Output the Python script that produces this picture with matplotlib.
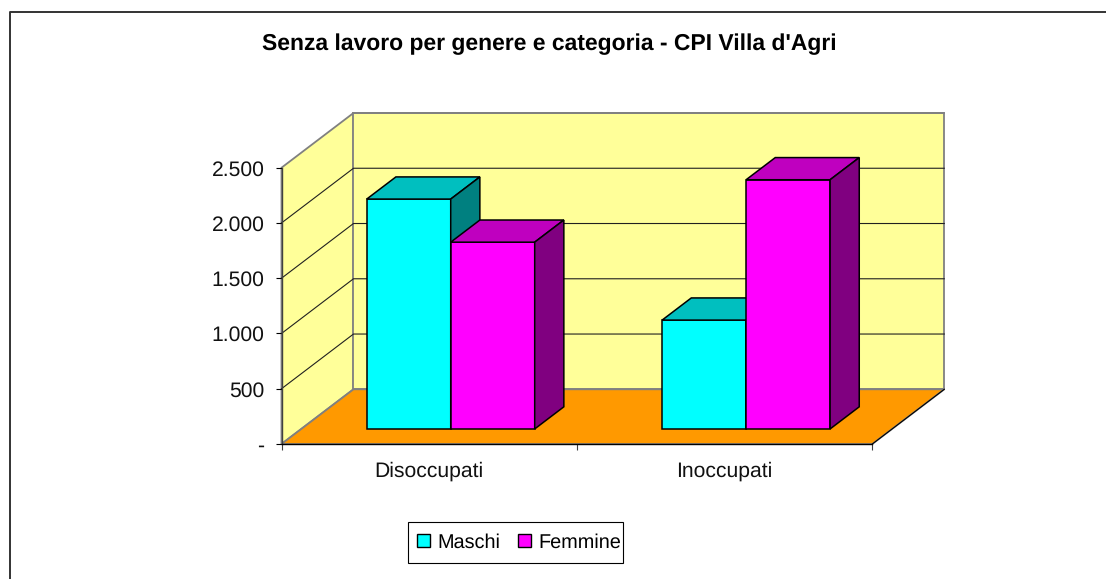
import matplotlib
matplotlib.use('Agg')
import matplotlib.pyplot as plt
from matplotlib.patches import Patch, Polygon, Rectangle

plt.rcParams['font.family'] = ['Liberation Sans', 'DejaVu Sans']
plt.rcParams['text.hinting'] = 'no_hinting'

# data
categories = ['Disoccupati', 'Inoccupati']
maschi = [2080, 985]
femmine = [1690, 2255]
yticks = [0, 500, 1000, 1500, 2000, 2500]
yticklabels = ['-', '500', '1.000', '1.500', '2.000', '2.500']

W, H = 1106, 579
fig = plt.figure(figsize=(W / 100, H / 100), dpi=100)
ax = fig.add_axes([281.5 / W, 1 - 444 / H, 590.8 / W, 276.3 / H])
ax.set_xlim(0, 2)
ax.set_ylim(0, 2500)
ax.patch.set_visible(False)

# oblique projection of the 3d box
DX = 0.2437
DY = 495
ymax = yticks[-1]


def proj(x, v, d):
    return (x + d * DX, v + d * DY)


def face(pts, fc, ec, lw, z):
    ax.add_patch(Polygon([proj(*p) for p in pts], closed=True, fc=fc, ec=ec,
                         lw=lw, zorder=z, clip_on=False, joinstyle='miter'))


# walls and floor
face([(0, 0, 0), (0, ymax, 0), (0, ymax, 1), (0, 0, 1)], '#FFFF99', '#808080', 1.3, 1)
face([(0, 0, 1), (0, ymax, 1), (2, ymax, 1), (2, 0, 1)], '#FFFF99', '#808080', 1.3, 1)
face([(0, 0, 0), (2, 0, 0), (2, 0, 1), (0, 0, 1)], '#FF9900', '#808080', 1.3, 1.5)
a, b = proj(2, 0, 0), proj(2, 0, 1)
ax.plot([a[0], b[0]], [a[1], b[1]], color='k', lw=0.8, zorder=1.6, clip_on=False)

# gridlines on the side and back wall
for v in yticks[1:-1]:
    pts = [proj(0, v, 0), proj(0, v, 1), proj(2, v, 1)]
    ax.plot([p[0] for p in pts], [p[1] for p in pts], color='#202020', lw=0.8,
            zorder=2, clip_on=False)
a, b = proj(0, ymax, 1), proj(2, ymax, 1)
ax.plot([a[0], b[0]], [a[1], b[1]], color='#808080', lw=1.3, zorder=2, clip_on=False)


def bar3d(x0, x1, v, front, top, side, z):
    d0, d1 = 0.275, 0.68
    face([(x0, 0, d0), (x1, 0, d0), (x1, v, d0), (x0, v, d0)], front, 'k', 1.1, z)
    face([(x0, v, d0), (x1, v, d0), (x1, v, d1), (x0, v, d1)], top, 'k', 1.1, z)
    face([(x1, 0, d0), (x1, 0, d1), (x1, v, d1), (x1, v, d0)], side, 'k', 1.1, z)


width = 0.2843
start = 0.2215
for i in range(len(categories)):
    x = i + start
    bar3d(x, x + width, maschi[i], '#00FFFF', '#00BFBF', '#008080', 3 + i)
    bar3d(x + width, x + 2 * width, femmine[i], '#FF00FF', '#BF00BF', '#800080', 3.5 + i)

# axes
for s in ['top', 'right']:
    ax.spines[s].set_visible(False)
ax.spines['left'].set_color('#404040')
ax.spines['left'].set_linewidth(1.0)
ax.spines['bottom'].set_color('k')
ax.spines['bottom'].set_linewidth(1.0)
ax.spines['left'].set_zorder(2.5)
ax.spines['bottom'].set_zorder(2.5)
ax.set_yticks(yticks)
ax.set_yticklabels(yticklabels, fontsize=15.2, color='#111111')
ax.tick_params(axis='y', length=4.3, width=0.8, pad=8)
ax.set_xticks([0, 1, 2])
ax.set_xticklabels(['', '', ''])
ax.tick_params(axis='x', which='major', length=4.3, width=0.8, color='#404040')
ax.set_xticks([0.5, 1.5], minor=True)
ax.set_xticklabels(categories, minor=True, fontsize=15.2, color='#111111')
ax.tick_params(axis='x', which='minor', length=0, pad=12.5)

fig.text(549 / W, 1 - 44.5 / H, "Senza lavoro per genere e categoria - CPI Villa d'Agri",
         fontsize=16.5, fontweight='bold', ha='center', va='center', color='k')

# legend, box drawn apart since the text sits off-centre in it
fig.add_artist(Rectangle((407.7 / W, 1 - 563.3 / H), 215 / W, 41 / H, fc='w', ec='k',
                         lw=0.8, transform=fig.transFigure))
handles = [Patch(fc='#00FFFF', ec='k', lw=1.0, label='Maschi'),
           Patch(fc='#FF00FF', ec='k', lw=1.0, label='Femmine')]
leg = fig.legend(handles=handles, loc='center left', ncol=2,
                 bbox_to_anchor=(407.7 / W, 1 - 542.5 / H), fontsize=14.3, frameon=False,
                 borderpad=0.47, handlelength=0.65, handleheight=0.62, handletextpad=0.39,
                 columnspacing=0.87, borderaxespad=0)

# chart border
fig.add_artist(plt.Line2D([9.7 / W, 9.7 / W, 1], [0, 1 - 12 / H, 1 - 12 / H],
                          color='#333333', lw=1.4))

fig.savefig('out.png', dpi=100)
